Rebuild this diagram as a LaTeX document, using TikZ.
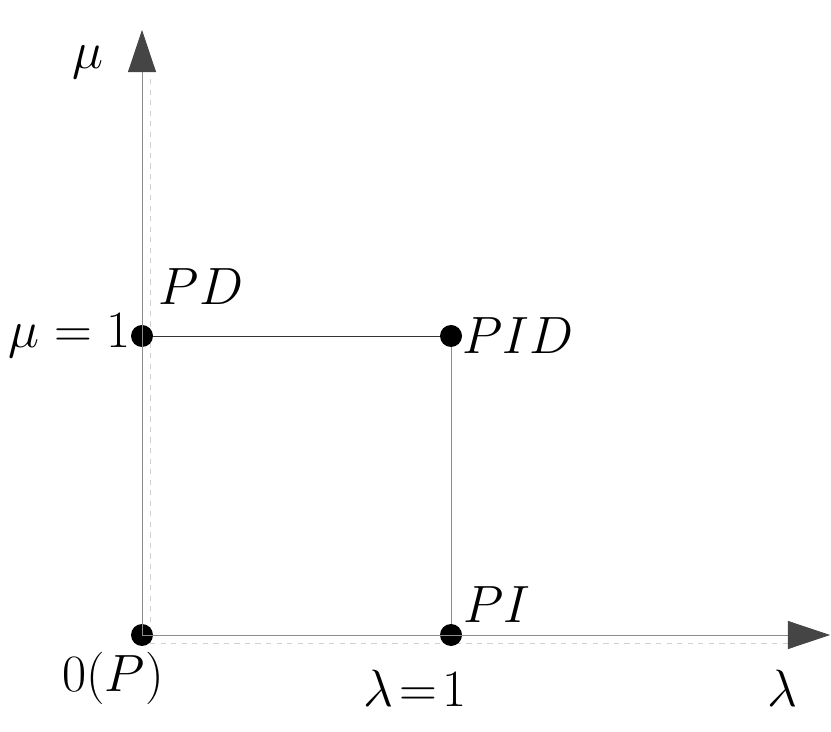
\documentclass[tikz,border=0pt]{standalone}
\usepackage{amsmath}
\usepackage{tikz}
\usetikzlibrary{arrows.meta}
\definecolor{axisgray}{HTML}{8C8C8C}
\definecolor{tipgray}{HTML}{454545}
\definecolor{shadowgray}{HTML}{D0D0D0}
\newlength{\pxu}\setlength{\pxu}{0.02cm}
\tikzset{
  dot/.style={circle,fill=black,inner sep=0pt,minimum size=22\pxu},
  lbl/.style={inner sep=0pt,font=\Huge,scale=1.2,transform shape},
  axistip/.style={-{Triangle[length=24pt,width=16pt,color=tipgray]}}
}
\begin{document}
\begin{tikzpicture}[x=0.02cm,y=0.02cm]
\useasboundingbox (0,0) rectangle (831,-732);
% shadow of the axes
\draw [shadowgray,dashed] (150,-643) -- (150,-75);
\draw [shadowgray,dashed] (150,-643) -- (790,-643);
% points
\node[dot] (O) at (142,-635) {};
\node[dot] (L) at (451,-635) {};
\node[dot] (M) at (142,-336) {};
\node[dot] (LM) at (451,-336) {};
\coordinate (ytip) at (142,-30);% end of mu axis
\coordinate (xtip) at (830,-635);% end of lambda axis
% axes
\draw [axisgray,axistip] (O.center) -- (ytip);
\draw [axisgray,axistip] (O.center) -- (xtip);
% square
\draw [black!80] (M) -- (LM);
\draw [axisgray] (LM) -- (L);
% labels
\node[lbl] (mu) at (88,-62) {$\mu$};
\node[lbl] (lam) at (782,-688) {$\lambda$};
\node[lbl,anchor=east] (mu1) at (131,-336) {$\mu = 1$};
\node[lbl] (lam1) at (415,-688) {$\lambda\!=\!1$};
\node[lbl] (zero) at (113,-678) {$0(P)$};
\node[lbl] (pd) at (201,-287) {$PD$};
\node[lbl,anchor=west] (pid) at (462,-336) {$PID$};
\node[lbl,anchor=west] (pi) at (463,-605) {$PI$};
\end{tikzpicture}
\end{document}
